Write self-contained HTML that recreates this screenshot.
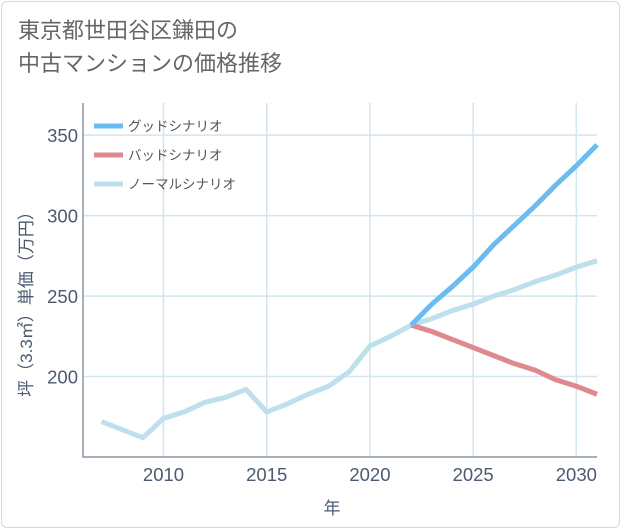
<!DOCTYPE html>
<html><head><meta charset="utf-8"><style>
body{margin:0;background:#fff;}
#card{position:absolute;left:1px;top:1px;width:617px;height:525px;border:1px solid #d8d8d8;border-radius:6px;background:#fff;}
#title{position:absolute;left:18px;top:14px;font:22px "Liberation Sans","Noto Sans CJK JP",sans-serif;color:#666;line-height:33px;}
svg text{font-family:"Liberation Sans","Noto Sans CJK JP",sans-serif;}
</style></head><body>
<div id="card"></div>
<div id="title">東京都世田谷区鎌田の<br>中古マンションの価格推移</div>
<svg id="chart" width="621" height="530" style="position:absolute;left:0;top:0"></svg>
<script>
const normalYears=[2007,2008,2009,2010,2011,2012,2013,2014,2015,2016,2017,2018,2019,2020,2021,2022,2023,2024,2025,2026,2027,2028,2029,2030,2031];
const normalValues=[172,167,162,174,178,184,187,192,178,183,189,194,203,219,225,232,236,241,245,250,254,259,263,268,272];
const scenarioYears=[2022,2023,2024,2025,2026,2027,2028,2029,2030,2031];
const goodValues=[232,245,256,268,282,294,306,319,331,344];
const badValues=[232,228,223,218,213,208,204,198,194,189];
const xTicks=[2010,2015,2020,2025,2030];
const yTicks=[200,250,300,350];
const legendLabels=["グッドシナリオ","バッドシナリオ","ノーマルシナリオ"];
const colors=["#6bbcf0","#e0888f","#bde0ec"];
const L=83,R=597,T=103,B=457;
const X0=2006.1,X1=2031,Y0=150,Y1=370;
const x=v=>L+(v-X0)/(X1-X0)*(R-L);
const y=v=>B-(v-Y0)/(Y1-Y0)*(B-T);
const svg=document.getElementById('chart');
const NS='http://www.w3.org/2000/svg';
function mk(t,a){const e=document.createElementNS(NS,t);for(const k in a)e.setAttribute(k,a[k]);svg.appendChild(e);return e;}
for(const t of xTicks){
 const g=mk('line',{x1:x(t),x2:x(t),y1:T,y2:B,stroke:'#d3e5ef','stroke-width':1.5});
 
 
 const l=mk('text',{x:x(t),y:B+24,'text-anchor':'middle','font-size':18.5,fill:'#4a5a70'});
 l.textContent=t;
 
 
}
for(const t of yTicks){
 const g=mk('line',{x1:L,x2:R,y1:y(t),y2:y(t),stroke:'#d3e5ef','stroke-width':1.5});
 
 
 const l=mk('text',{x:L-5,y:y(t)+7,'text-anchor':'end','font-size':18.5,fill:'#4a5a70'});
 l.textContent=t;
 
 
}
const ax=mk('path',{d:`M${L},${T}V${B}H${R}`,fill:'none',stroke:'#8a95a0','stroke-width':1.5});


function line(xs,vs,c,name){
 const p=mk('polyline',{points:xs.map((v,i)=>x(v)+','+y(vs[i])).join(' '),fill:'none',stroke:c,'stroke-width':5,'stroke-linejoin':'round'});
 
 
}
line(normalYears,normalValues,colors[2],'normal-scenario-line');
line(scenarioYears,badValues,colors[1],'bad-scenario-line');
line(scenarioYears,goodValues,colors[0],'good-scenario-line');
legendLabels.forEach((s,i)=>{
 const yy=126+i*29;
 const r=mk('line',{x1:94,x2:123,y1:yy,y2:yy,stroke:colors[i],'stroke-width':5});
 
 
 const t=mk('text',{x:128,y:yy+5,'font-size':13.5,fill:'#555'});
 t.textContent=s;
 
 
});
const xt=mk('text',{x:332,y:514,'text-anchor':'middle','font-size':17,fill:'#4a5a70'});
xt.textContent='年';


const yt=mk('text',{x:0,y:0,'text-anchor':'middle','font-size':17,fill:'#4a5a70',transform:'translate(32,300) rotate(-90)'});
yt.textContent='坪（3.3㎡）単価（万円）';


</script>
</body></html>
